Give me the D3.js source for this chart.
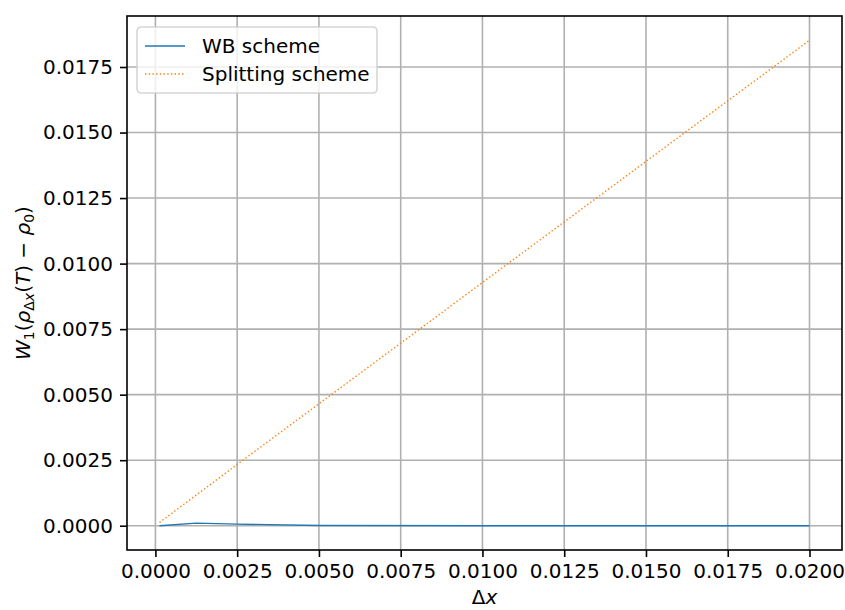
<!DOCTYPE html>
<html>
<head>
<meta charset="utf-8">
<script src="https://cdn.jsdelivr.net/npm/d3@7"></script>
<style>
  html, body { margin: 0; padding: 0; background: #fff; }
  svg { display: block; font-family: "DejaVu Sans", sans-serif; }
</style>
</head>
<body>
<svg id="chart" width="845" height="610"></svg>
<script>
// Grid spacings and the error of each scheme
const dx = [0.000125, 0.00125, 0.0025, 0.005, 0.01, 0.02];
const wbError = [0.0, 0.0001, 0.00006, 0.00001, 0.0, 0.0];
const splittingError = [0.000125, 0.00117, 0.00234, 0.00465, 0.00928, 0.01852];
const xTicks = [0, 0.0025, 0.005, 0.0075, 0.01, 0.0125, 0.015, 0.0175, 0.02];
const yTicks = [0, 0.0025, 0.005, 0.0075, 0.01, 0.0125, 0.015, 0.0175];
const seriesNames = ["WB scheme", "Splitting scheme"];
const seriesColors = ["#1f77b4", "#ff7f0e"];

const svg = d3.select("#chart");
const plot = { left: 127, right: 842, top: 16, bottom: 550 };

// matplotlib-style 5% margins around the data
function padded(lo, hi) { const m = (hi - lo) * 0.05; return [lo - m, hi + m]; }
const allY = wbError.concat(splittingError);
const x = d3.scaleLinear().domain(padded(d3.min(dx), d3.max(dx))).range([plot.left, plot.right]);
const y = d3.scaleLinear().domain(padded(d3.min(allY), d3.max(allY))).range([plot.bottom, plot.top]);

const fmt = d3.format(".4f");

// grid
const grid = svg.append("g");
grid.selectAll("line.gx").data(xTicks).join("line")
  .attr("x1", d => x(d)).attr("x2", d => x(d))
  .attr("y1", plot.top).attr("y2", plot.bottom)
  .attr("stroke", "#b0b0b0").attr("stroke-width", 1.6);
grid.selectAll("line.gy").data(yTicks).join("line")
  .attr("y1", d => y(d)).attr("y2", d => y(d))
  .attr("x1", plot.left).attr("x2", plot.right)
  .attr("stroke", "#b0b0b0").attr("stroke-width", 1.6);

// series
const line = d3.line().x(d => x(d[0])).y(d => y(d[1]));
svg.append("path")
  .datum(dx.map((d, i) => [d, wbError[i]]))
  .attr("d", line).attr("fill", "none")
  .attr("stroke", seriesColors[0]).attr("stroke-width", 1.4);
svg.append("path")
  .datum(dx.map((d, i) => [d, splittingError[i]]))
  .attr("d", line).attr("fill", "none")
  .attr("stroke", seriesColors[1]).attr("stroke-width", 1.4)
  .attr("stroke-dasharray", "1.4,2.3");

// axes
const xAxis = d3.axisBottom(x).tickValues(xTicks).tickFormat(fmt).tickSize(7).tickPadding(7);
const yAxis = d3.axisLeft(y).tickValues(yTicks).tickFormat(fmt).tickSize(7).tickPadding(7);
const gx = svg.append("g").attr("transform", `translate(0,${plot.bottom})`).call(xAxis);
const gy = svg.append("g").attr("transform", `translate(${plot.left},0)`).call(yAxis);
[gx, gy].forEach(g => {
  g.select(".domain").remove();
  g.selectAll(".tick line").attr("stroke", "#000").attr("stroke-width", 1.6);
  g.selectAll(".tick text").attr("fill", "#000")
    .style("font-family", "'DejaVu Sans', sans-serif").style("font-size", "20px");
});

// frame
svg.append("rect")
  .attr("x", plot.left).attr("y", plot.top)
  .attr("width", plot.right - plot.left).attr("height", plot.bottom - plot.top)
  .attr("fill", "none").attr("stroke", "#000").attr("stroke-width", 1.6);

// axis labels
const xl = svg.append("text")
  .attr("x", (plot.left + plot.right) / 2).attr("y", 604)
  .attr("text-anchor", "middle").style("font-size", "20px");
xl.append("tspan").text("Δ");
xl.append("tspan").style("font-style", "italic").text("x");

const yl = svg.append("text")
  .attr("transform", `translate(30,${(plot.top + plot.bottom) / 2}) rotate(-90)`)
  .attr("text-anchor", "middle").style("font-size", "20px");
yl.append("tspan").style("font-style", "italic").text("W");
yl.append("tspan").attr("dy", 4).style("font-size", "14px").text("1");
yl.append("tspan").attr("dy", -4).text("(");
yl.append("tspan").style("font-style", "italic").text("ρ");
yl.append("tspan").attr("dy", 4).style("font-size", "14px").text("Δ");
yl.append("tspan").style("font-size", "14px").style("font-style", "italic").text("x");
yl.append("tspan").attr("dy", -4).text("(");
yl.append("tspan").style("font-style", "italic").text("T");
yl.append("tspan").text(") − ");
yl.append("tspan").style("font-style", "italic").text("ρ");
yl.append("tspan").attr("dy", 4).style("font-size", "14px").text("0");
yl.append("tspan").attr("dy", -4).text(")");

// legend
const lg = svg.append("g").attr("transform", "translate(137,27)");
lg.append("rect").attr("width", 240).attr("height", 66).attr("rx", 4)
  .attr("fill", "#fff").attr("fill-opacity", 0.8)
  .attr("stroke", "#ccc").attr("stroke-opacity", 0.8).attr("stroke-width", 1.6);
seriesNames.forEach((name, i) => {
  const cy = 19 + i * 28;
  lg.append("line").attr("x1", 8).attr("x2", 48).attr("y1", cy).attr("y2", cy)
    .attr("stroke", seriesColors[i]).attr("stroke-width", 1.4)
    .attr("stroke-dasharray", i === 1 ? "1.4,2.3" : null);
  lg.append("text").attr("x", 65).attr("y", cy + 7).style("font-size", "20px").text(name);
});
</script>
</body>
</html>
